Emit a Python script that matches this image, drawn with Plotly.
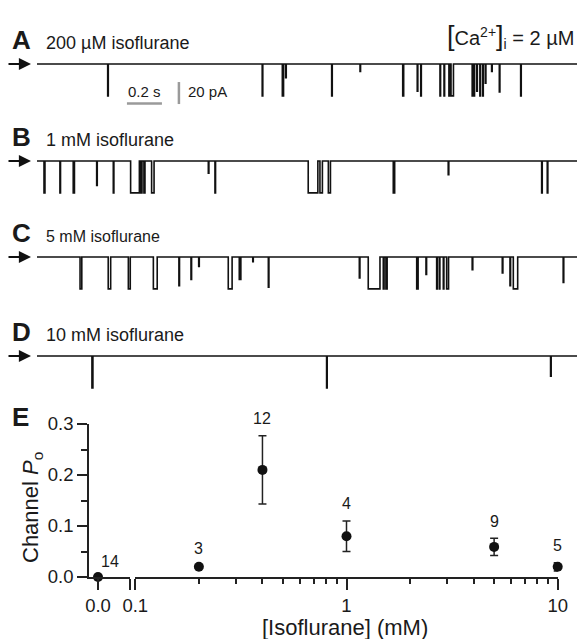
import math
import plotly.graph_objects as go

W, H = 577, 639

# ---------------- data ----------------
panel_letters = ["A", "B", "C", "D"]
panel_titles = ["200 µM isoflurane", "1 mM isoflurane", "5 mM isoflurane", "10 mM isoflurane"]
record_duration_s = 3.086
unitary_current_pA = 29.0

# single-channel openings: (start s, duration ms, fraction of unitary amplitude)
events_A = [
    (0.404, 3.4, 1.0), (1.287, 3.4, 1.0), (1.402, 7.0, 1.0), (1.421, 3.4, 0.43),
    (1.684, 3.4, 1.0), (1.846, 3.0, 0.23), (2.090, 5.5, 1.0), (2.173, 3.4, 0.85),
    (2.193, 3.4, 1.0), (2.303, 3.4, 1.0), (2.326, 3.4, 1.0), (2.354, 3.4, 1.0),
    (2.366, 14.0, 1.0), (2.487, 3.4, 1.0), (2.497, 3.4, 1.0), (2.513, 3.4, 0.85),
    (2.531, 3.4, 1.0), (2.547, 3.4, 1.0), (2.562, 3.4, 0.6), (2.598, 3.4, 0.23),
    (2.642, 3.4, 0.88), (2.764, 3.4, 1.0),
]
events_B = [
    (0.040, 5.5, 1.0), (0.131, 3.4, 1.0), (0.207, 7.0, 1.0), (0.341, 3.4, 0.77),
    (0.436, 3.4, 1.0), (0.535, 50.0, 1.0), (0.594, 6.0, 1.0), (0.611, 6.0, 1.0),
    (0.655, 14.0, 1.0), (0.979, 3.4, 0.38), (1.017, 3.4, 1.0), (1.550, 55.0, 1.0),
    (1.617, 14.0, 1.0), (1.665, 12.0, 1.0), (2.036, 8.0, 1.0), (2.350, 3.4, 0.43),
    (2.884, 3.4, 1.0), (2.916, 3.4, 1.0),
]
events_C = [
    (0.246, 10.0, 1.0), (0.407, 14.0, 1.0), (0.522, 11.0, 1.0), (0.665, 22.0, 1.0),
    (0.811, 3.4, 0.9), (0.880, 3.4, 0.7), (0.924, 3.4, 0.3), (1.093, 22.0, 1.0),
    (1.156, 9.0, 0.7), (1.233, 3.0, 0.15), (1.322, 3.4, 0.95), (1.842, 3.4, 0.66),
    (1.893, 67.0, 1.0), (1.979, 4.5, 1.0), (1.994, 7.0, 1.0), (2.170, 8.0, 1.0),
    (2.223, 3.4, 0.55), (2.284, 3.4, 1.0), (2.299, 3.4, 1.0), (2.322, 3.4, 1.0),
    (2.341, 11.0, 1.0), (2.487, 3.4, 0.4), (2.659, 3.4, 0.5), (2.703, 3.4, 0.9),
    (2.722, 25.0, 1.0), (3.007, 3.4, 0.8),
]
events_D = [
    (0.314, 5.5, 1.0), (1.655, 3.4, 1.0), (2.935, 3.4, 0.63),
]
all_events = [events_A, events_B, events_C, events_D]

scalebar_time_s = 0.2
scalebar_current_pA = 20

conc_mM = [0.0, 0.2, 0.4, 1.0, 5.0, 10.0]
po_mean = [0.0, 0.02, 0.21, 0.08, 0.059, 0.02]
po_sem = [0.0, 0.003, 0.067, 0.03, 0.017, 0.008]
n_cells = [14, 3, 12, 4, 9, 5]

# ---------------- helpers ----------------
FONT = "Liberation Sans, Arial, Helvetica, sans-serif"
INK = "#1a1a1a"


def pxx(p):
    return p / W


def pxy(p):
    return 1 - p / H


def step_trace(events):
    xs, ys = [0.0], [0.0]
    for start, dur_ms, frac in events:
        end = start + dur_ms / 1000.0
        amp = -unitary_current_pA * frac
        xs += [start, start, end, end]
        ys += [0.0, amp, amp, 0.0]
    xs.append(record_duration_s)
    ys.append(0.0)
    return xs, ys


fig = go.Figure()
layout = dict(
    width=W, height=H, margin=dict(l=0, r=0, t=0, b=0, pad=0, autoexpand=False),
    paper_bgcolor="white", plot_bgcolor="white", showlegend=False,
    font=dict(family=FONT, color=INK),
)
annotations = []

baselines_px = [64, 161, 257, 356]
PX_PER_PA = 1.1
below_px, above_px = 44, 6
trace_x0_px = 37

for i, (events, base) in enumerate(zip(all_events, baselines_px)):
    k = i + 1
    xs, ys = step_trace(events)
    fig.add_trace(go.Scatter(
        x=xs, y=ys, mode="lines", line=dict(color="#111", width=1.6),
        xaxis=f"x{k}", yaxis=f"y{k}", hoverinfo="skip",
    ))
    layout[f"xaxis{k}"] = dict(domain=[pxx(trace_x0_px), 1.0], range=[0, record_duration_s],
                               visible=False, anchor=f"y{k}", automargin=False)
    layout[f"yaxis{k}"] = dict(domain=[pxy(base + below_px), pxy(base - above_px)],
                               range=[-below_px / PX_PER_PA, above_px / PX_PER_PA],
                               visible=False, anchor=f"x{k}", automargin=False)
    # arrow marking closed level
    annotations.append(dict(
        x=pxx(31), y=pxy(base), xref="paper", yref="paper", text="",
        showarrow=True, ax=-24, ay=0, arrowhead=2, arrowsize=1.1, arrowwidth=2.2,
        arrowcolor="#111",
    ))
    # panel letter + title
    title_size = 16 if i == 2 else 18
    annotations.append(dict(x=pxx(10), y=pxy(base - 24), xref="paper", yref="paper",
                            text=f"<b>{panel_letters[i]}</b>", showarrow=False,
                            xanchor="left", yanchor="middle",
                            font=dict(size=26, family=FONT, color=INK)))
    annotations.append(dict(x=pxx(44), y=pxy(base - 21), xref="paper", yref="paper",
                            text=panel_titles[i], showarrow=False,
                            xanchor="left", yanchor="middle",
                            font=dict(size=title_size, family=FONT, color=INK)))

# scale bars on panel A
sb_t0 = 0.514
sb_y = -35.9
fig.add_trace(go.Scatter(x=[sb_t0, sb_t0 + scalebar_time_s], y=[sb_y, sb_y], mode="lines",
                         line=dict(color="#9a9a9a", width=2.5), xaxis="x1", yaxis="y1",
                         hoverinfo="skip"))
sb_tv = 0.811
fig.add_trace(go.Scatter(x=[sb_tv, sb_tv], y=[-16.4, -16.4 - scalebar_current_pA], mode="lines",
                         line=dict(color="#9a9a9a", width=2.5), xaxis="x1", yaxis="y1",
                         hoverinfo="skip"))
annotations.append(dict(x=sb_t0 + scalebar_time_s / 2, y=-25.2, xref="x1", yref="y1",
                        text=f"{scalebar_time_s} s", showarrow=False,
                        xanchor="center", yanchor="middle",
                        font=dict(size=15, family=FONT, color=INK)))
annotations.append(dict(x=0.851, y=-25.2, xref="x1", yref="y1", xanchor="left",
                        yanchor="middle",
                        text=f"{scalebar_current_pA} pA", showarrow=False,
                        font=dict(size=15, family=FONT, color=INK)))

# Ca label
annotations.append(dict(
    x=pxx(576), y=pxy(37), xref="paper", yref="paper", xanchor="right", yanchor="middle",
    text='<span style="font-size:27px">[</span>Ca<sup>2+</sup><span style="font-size:27px">]</span><sub>i</sub> = 2 µM',
    showarrow=False, font=dict(size=20, family=FONT, color=INK)))

# ---------------- panel E ----------------
E_top, E_bot = 424, 577
seg_l, seg_r = 89, 130
log_l, log_r = 135.3, 557.7

fig.add_trace(go.Scatter(
    x=[conc_mM[0]], y=[po_mean[0]], mode="markers", xaxis="x5", yaxis="y5",
    marker=dict(size=10, color="#111"), cliponaxis=False, hoverinfo="skip"))
fig.add_trace(go.Scatter(
    x=conc_mM[1:], y=po_mean[1:], mode="markers", xaxis="x6", yaxis="y5",
    marker=dict(size=10, color="#111"), cliponaxis=False, hoverinfo="skip",
    error_y=dict(type="data", array=po_sem[1:], width=4, thickness=1.5, color="#222")))

axis_common = dict(showline=True, linecolor="#222", linewidth=1.5, ticks="outside",
                   tickcolor="#222", tickwidth=1.5, showgrid=False, zeroline=False,
                   automargin=False,
                   tickfont=dict(size=18.5, family=FONT, color=INK))
layout["yaxis5"] = dict(domain=[pxy(E_bot), pxy(E_top)], range=[0, 0.3], anchor="x5",
                        tick0=0, dtick=0.1, tickformat=".1f", ticklen=10,
                        minor=dict(dtick=0.05, ticklen=6, ticks="outside", tickcolor="#222",
                                   tickwidth=1.5),
                        **axis_common)
layout["xaxis5"] = dict(domain=[pxx(seg_l), pxx(seg_r)], range=[-1, 3.556], anchor="y5",
                        tickmode="array", tickvals=[0, 3.55], ticktext=["0.0", ""], ticklen=11,
                        **axis_common)
minor_vals = [0.2, 0.3, 0.4, 0.5, 0.6, 0.7, 0.8, 0.9, 2, 3, 4, 5, 6, 7, 8, 9]
layout["xaxis6"] = dict(domain=[pxx(log_l), pxx(log_r)], type="log", range=[-1, 1],
                        anchor="y5", tickmode="array", tickvals=[0.1, 1, 10],
                        ticktext=["0.1", "1", "10"], ticklen=11,
                        minor=dict(tickmode="array", tickvals=minor_vals, ticklen=5,
                                   ticks="outside", tickcolor="#222", tickwidth=1.5),
                        **axis_common)

for j, (c, m, s, n) in enumerate(zip(conc_mM, po_mean, po_sem, n_cells)):
    if j == 0:
        annotations.append(dict(x=c, y=m, xref="x5", yref="y5", text=str(n), showarrow=False,
                                xshift=12, yshift=16, xanchor="center", yanchor="middle",
                                font=dict(size=16, family=FONT, color=INK)))
    else:
        annotations.append(dict(x=math.log10(c), y=m + s, xref="x6", yref="y5", text=str(n),
                                showarrow=False, yshift=17, xanchor="center", yanchor="middle",
                                font=dict(size=16, family=FONT, color=INK)))

annotations.append(dict(x=pxx(10), y=pxy(417), xref="paper", yref="paper", text="<b>E</b>",
                        showarrow=False, xanchor="left", yanchor="middle",
                        font=dict(size=26, family=FONT, color=INK)))
annotations.append(dict(x=pxx(32), y=pxy(508), xref="paper", yref="paper",
                        text="Channel <i>P</i><sub>o</sub>", textangle=-90, showarrow=False,
                        xanchor="center", yanchor="middle",
                        font=dict(size=22, family=FONT, color=INK)))
annotations.append(dict(x=pxx(345), y=pxy(627), xref="paper", yref="paper",
                        text="[Isoflurane] (mM)", showarrow=False,
                        xanchor="center", yanchor="middle",
                        font=dict(size=22, family=FONT, color=INK)))

layout["annotations"] = annotations
fig.update_layout(**layout)
fig.write_html("out.html", config={"displayModeBar": False},
               post_script="document.body.style.margin='0';document.body.style.padding='0';")
